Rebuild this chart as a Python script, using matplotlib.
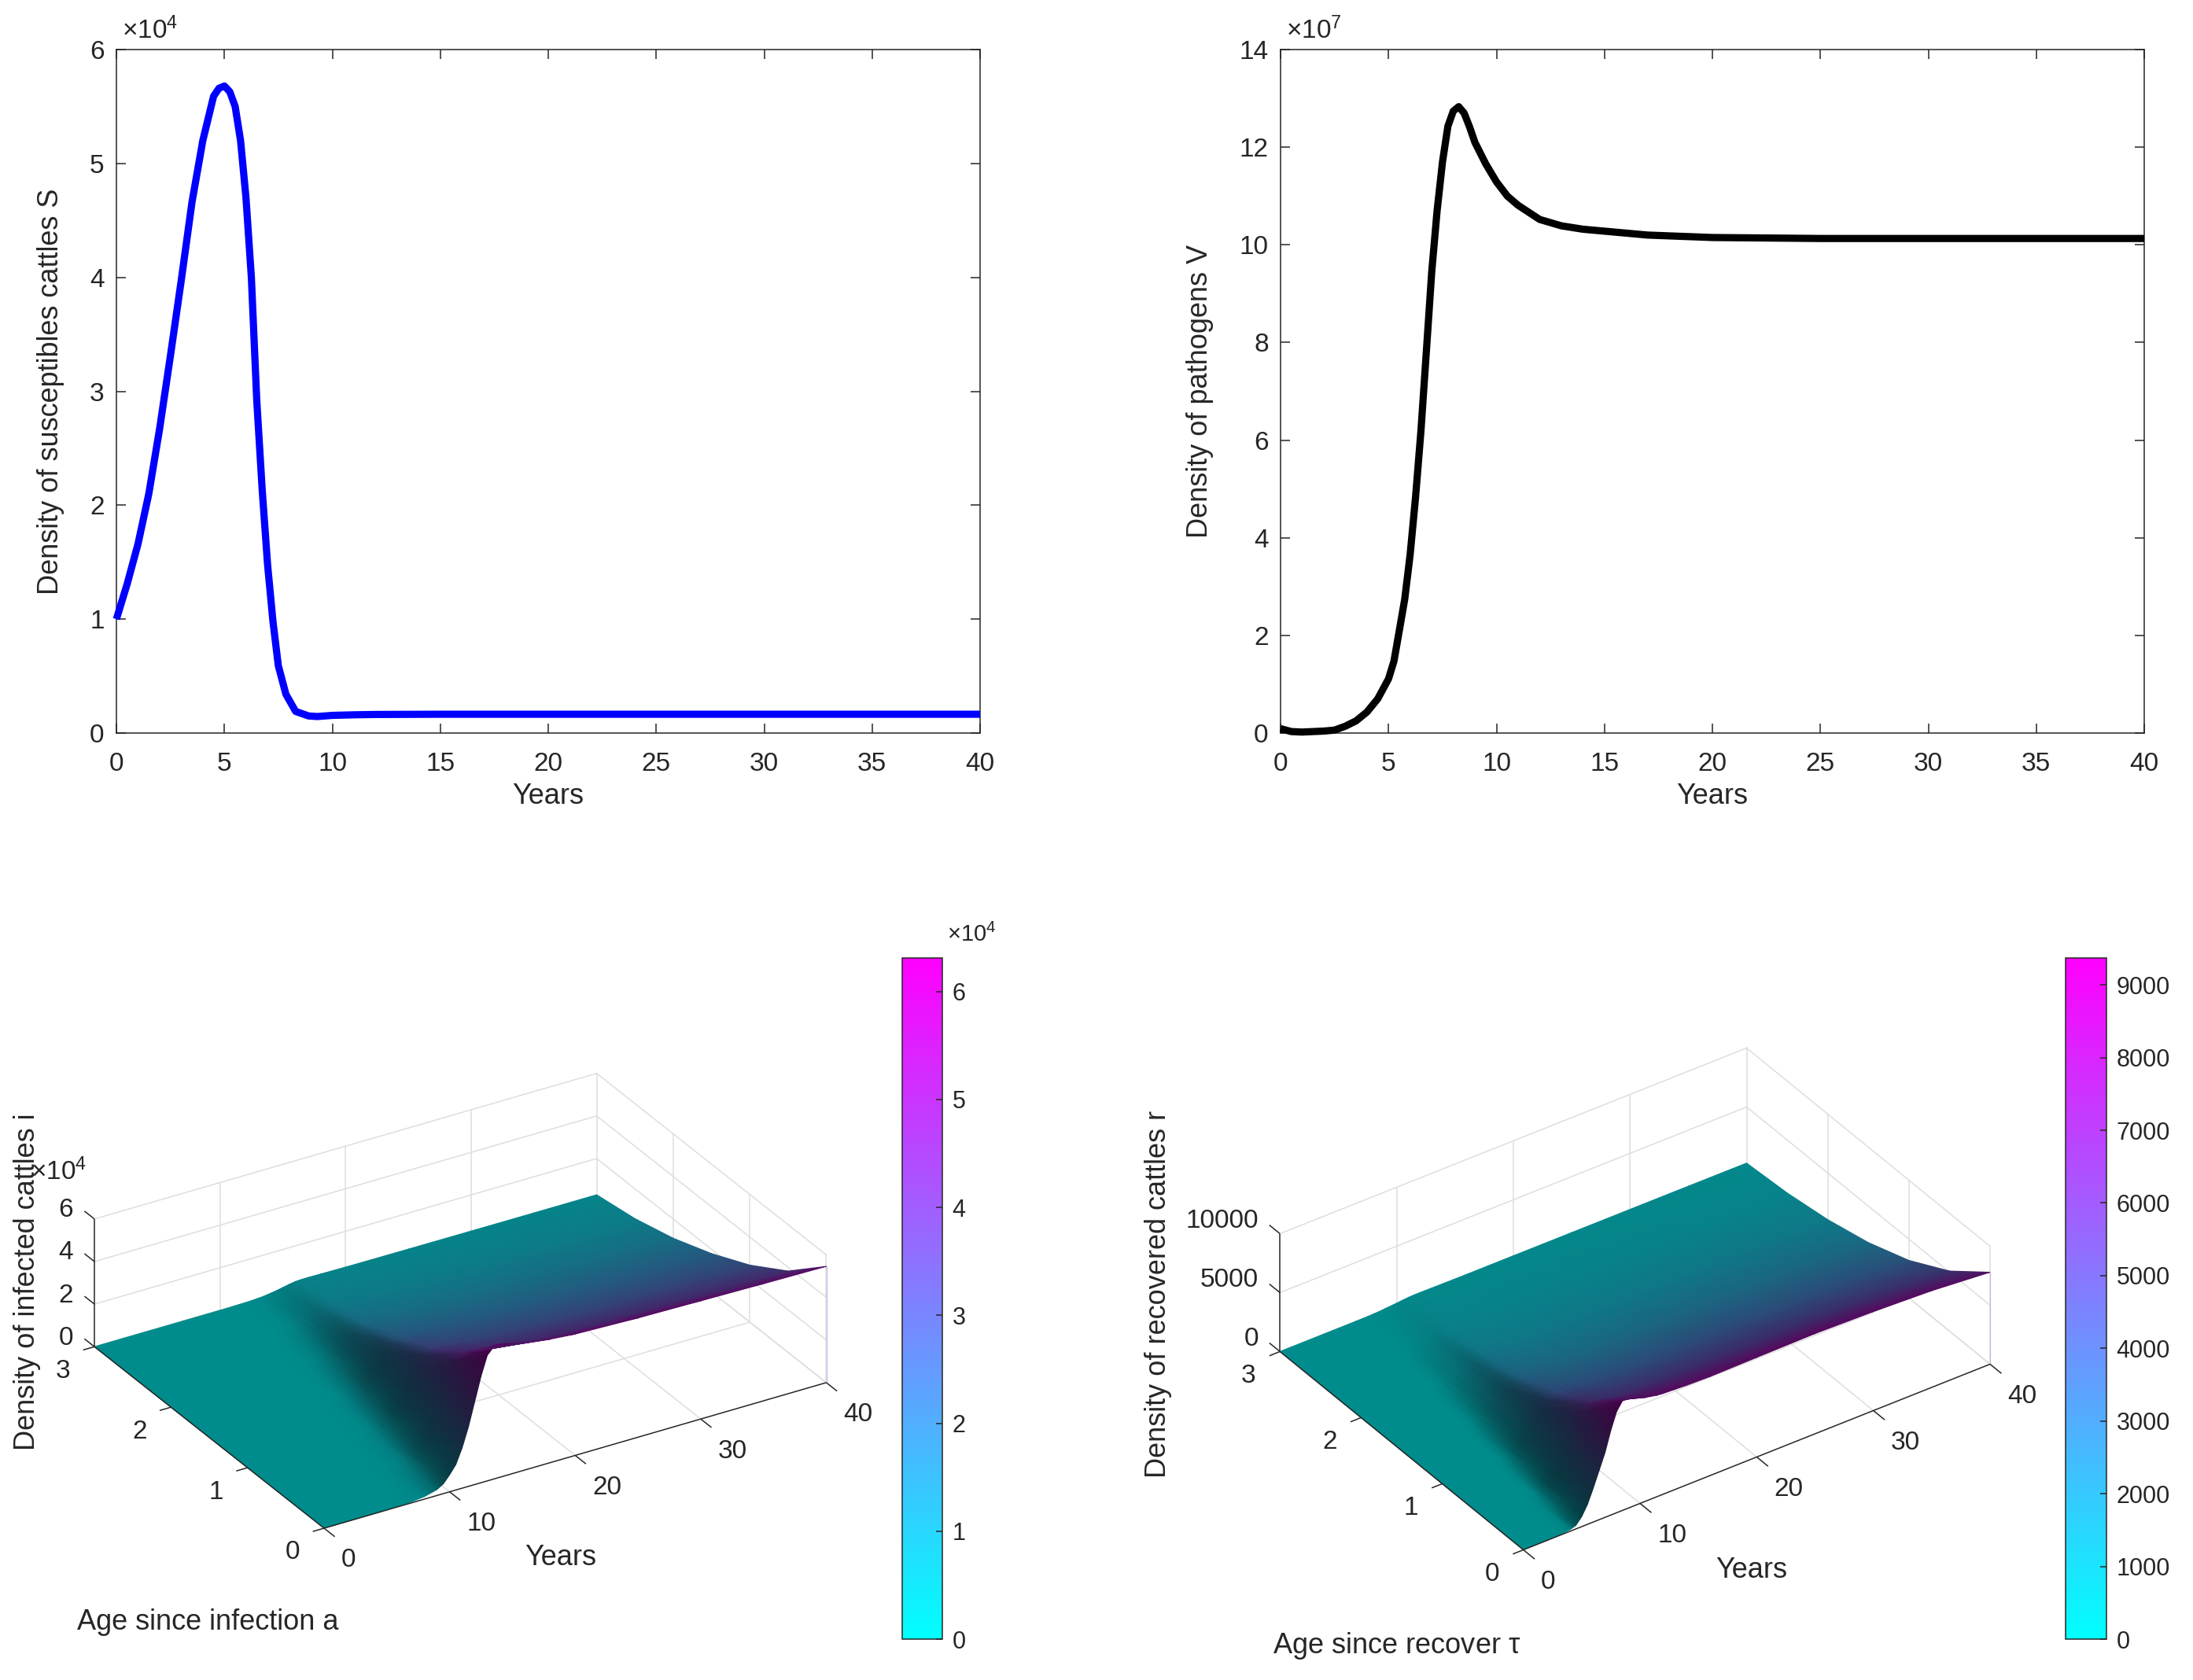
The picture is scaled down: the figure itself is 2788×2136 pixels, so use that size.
import numpy as np
import matplotlib
matplotlib.use("Agg")
import matplotlib.pyplot as plt
from matplotlib import cm
from matplotlib.colors import Normalize
from mpl_toolkits.mplot3d import proj3d

plt.rcParams['font.family'] = ['Liberation Sans', 'DejaVu Sans']
plt.rcParams['mathtext.fontset'] = 'custom'
plt.rcParams['mathtext.rm'] = 'Liberation Sans'
plt.rcParams['mathtext.it'] = 'Liberation Sans:italic'
plt.rcParams['mathtext.default'] = 'regular'

W, H = 2788, 2136
INK = '#262626'
GRID = '#dedede'

# susceptibles, units of 1e4
s_years = [0, 0.5, 1, 1.5, 2, 2.5, 3, 3.5, 4, 4.5, 4.75, 5, 5.25, 5.5, 5.75, 6, 6.25, 6.5, 6.75, 7,
           7.25, 7.5, 7.85, 8.3, 8.9, 9.3, 10, 11, 12, 15, 20, 30, 40]
s_values = [1.0, 1.31, 1.66, 2.10, 2.67, 3.31, 3.97, 4.66, 5.20, 5.59, 5.66, 5.68, 5.63, 5.50, 5.20, 4.70, 4.00, 2.92,
            2.14, 1.48, 0.98, 0.59, 0.34, 0.19, 0.15, 0.145, 0.155, 0.16, 0.163, 0.165, 0.165, 0.165, 0.165]

# pathogens, units of 1e7
v_years = [0, 0.5, 1, 2, 2.5, 3, 3.5, 4, 4.5, 5, 5.25, 5.5, 5.75, 6, 6.25, 6.5, 6.75, 7, 7.25, 7.5, 7.75, 8,
           8.25, 8.5, 8.75, 9, 9.5, 10, 10.5, 11, 12, 13, 14, 15, 17, 20, 25, 30, 40]
v_values = [0.09, 0.03, 0.02, 0.04, 0.06, 0.14, 0.25, 0.43, 0.70, 1.11, 1.47, 2.10, 2.74, 3.65, 4.82, 6.18, 7.80, 9.44,
            10.7, 11.7, 12.43, 12.74, 12.83, 12.70, 12.42, 12.10, 11.66, 11.29, 11.00, 10.81, 10.52, 10.39, 10.32,
            10.28, 10.2, 10.15, 10.13, 10.13, 10.13]

# infected cattles i(t, a), units of 1e4, one row per age
i_years = [0, 2, 4, 6, 7, 8, 9, 9.5, 10, 10.5, 11, 11.5, 12, 12.5, 13, 13.5, 14, 14.5, 15, 15.5, 16, 16.5, 17,
           18, 20, 25, 30, 35, 40]
i_ages = [0, 0.5, 1, 1.5, 2, 2.5, 3]
i_values = [
    [0, 0, 0, .02, .05, .12, .28, .46, .80, 1.2, 1.9, 2.8, 3.9, 5.0, 5.9, 6.2, 6.25, 6.2, 6.1, 6.05, 6.0, 5.95, 5.9,
     5.8, 5.7, 5.6, 5.55, 5.5, 5.46],
    [0, 0, 0, .01, .02, .06, .13, .20, .32, .56, .84, 1.33, 1.96, 2.73, 3.5, 4.13, 4.34, 4.38, 4.34, 4.27, 4.24, 4.2,
     4.17, 4.1, 4.0, 3.92, 3.89, 3.85, 3.82],
    [0, 0, 0, .005, .01, .02, .06, .09, .14, .23, .39, .59, .93, 1.37, 1.91, 2.45, 2.89, 3.04, 3.06, 3.04, 2.99,
     2.96, 2.94, 2.89, 2.82, 2.74, 2.72, 2.70, 2.68],
    [0, 0, 0, 0, .005, .01, .03, .04, .06, .09, .15, .26, .40, .63, .92, 1.29, 1.65, 1.95, 2.05, 2.06, 2.05, 2.01,
     2.0, 1.96, 1.91, 1.85, 1.83, 1.82, 1.80],
    [0, 0, 0, 0, 0, 0, .01, .02, .02, .04, .06, .09, .16, .24, .38, .56, .78, 1.0, 1.18, 1.24, 1.25, 1.24, 1.22,
     1.2, 1.17, 1.13, 1.12, 1.11, 1.10],
    [0, 0, 0, 0, 0, 0, 0, .005, .01, .01, .02, .03, .05, .09, .13, .21, .31, .43, .55, .65, .68, .69, .68,
     .67, .64, .62, .61, .61, .60],
    [0, 0, 0, 0, 0, 0, 0, 0, 0, 0, .005, .01, .015, .025, .044, .066, .11, .155, .215, .275, .325, .34, .344,
     .335, .32, .31, .305, .30, .30],
]

# recovered cattles r(t, tau), units of 1e3, one row per age
r_years = [0, 1, 2, 3, 3.5, 4, 4.5, 5, 5.5, 6, 6.5, 7, 7.5, 8, 8.5, 9, 9.5, 10, 10.5, 11, 11.5, 12, 13, 14, 16,
           20, 25, 30, 35, 40]
r_ages = [0, 0.5, 1, 1.5, 2, 2.5, 3]
r_values = [
    [0, .01, .02, .05, .08, .14, .30, .85, 1.7, 2.9, 4.2, 5.5, 7.2, 8.6, 9.3, 9.25, 9.1, 8.95, 8.8, 8.7, 8.6, 8.55,
     8.5, 8.45, 8.4, 8.45, 8.5, 8.4, 8.2, 7.8],
    [0, 0, .01, .02, .03, .05, .09, .20, .55, 1.1, 1.89, 2.73, 3.58, 4.68, 5.59, 6.05, 6.01, 5.92, 5.82, 5.72, 5.66,
     5.59, 5.54, 5.51, 5.47, 5.49, 5.52, 5.47, 5.35, 5.1],
    [0, 0, 0, .01, .01, .02, .03, .06, .12, .35, .70, 1.19, 1.72, 2.26, 2.95, 3.53, 3.81, 3.79, 3.73, 3.67, 3.61,
     3.57, 3.51, 3.49, 3.45, 3.46, 3.48, 3.45, 3.37, 3.2],
    [0, 0, 0, 0, .005, .01, .01, .02, .03, .07, .21, .42, .71, 1.03, 1.35, 1.76, 2.11, 2.28, 2.27, 2.23, 2.19,
     2.16, 2.11, 2.09, 2.06, 2.07, 2.08, 2.06, 2.01, 1.91],
    [0, 0, 0, 0, 0, 0, .005, .01, .01, .02, .04, .11, .23, .39, .57, .74, .97, 1.16, 1.26, 1.25, 1.23,
     1.21, 1.17, 1.15, 1.14, 1.14, 1.15, 1.14, 1.11, 1.05],
    [0, 0, 0, 0, 0, 0, 0, 0, .005, .005, .01, .02, .06, .11, .19, .27, .36, .47, .56, .60, .60,
     .59, .57, .56, .55, .55, .55, .55, .54, .51],
    [0, 0, 0, 0, 0, 0, 0, 0, 0, 0, .005, .005, .01, .03, .05, .09, .13, .17, .22, .26, .28,
     .28, .27, .26, .25, .25, .25, .25, .25, .24],
]

year_ticks = [0, 5, 10, 15, 20, 25, 30, 35, 40]


def fig_box(left, top, right, bottom):
    return [left / W, 1 - bottom / H, (right - left) / W, (bottom - top) / H]


def line_panel(fig, box, xs, ys, color, ymax, yticks, ylabel, label_x, exponent):
    ax = fig.add_axes(fig_box(*box))
    ax.plot(xs, ys, color=color, linewidth=6.6, solid_capstyle='butt', clip_on=False, zorder=3)
    ax.set_xlim(0, 40)
    ax.set_ylim(0, ymax)
    ax.set_xticks(year_ticks)
    ax.set_yticks(yticks)
    ax.tick_params(direction='in', top=True, right=True, length=8.6, width=1.1, color=INK,
                   labelcolor=INK, labelsize=24)
    ax.tick_params(axis='x', pad=17)
    ax.tick_params(axis='y', pad=11)
    for spine in ax.spines.values():
        spine.set_linewidth(1.1)
        spine.set_color(INK)
    ax.set_xlabel('Years', fontsize=26, color=INK, labelpad=6)
    ax.set_ylabel(ylabel, fontsize=26, color=INK)
    ax.yaxis.set_label_coords((label_x - box[0]) / (box[2] - box[0]), 0.5)
    ax.text(0.006, 1.008, exponent, transform=ax.transAxes, fontsize=24, color=INK, ha='left', va='bottom')
    return ax


def make_3d(fig, elev, azim, aspect, t_max, a_max, z_max, corner, t_length):
    # orthographic box, scaled and moved so the (t=0, a=0, z=0) corner lands on the wanted pixel
    size = 1000.0
    ax = fig.add_axes(fig_box(0, H - size, size, H), projection='3d', proj_type='ortho')
    ax.view_init(elev=elev, azim=azim)
    ax.set_xlim(0, t_max)
    ax.set_ylim(0, a_max)
    ax.set_zlim(0, z_max)
    ax.set_box_aspect(aspect)
    ax.set_axis_off()
    ax.patch.set_alpha(0)
    x0, _ = to_px(ax, 0, 0, 0)
    x1, _ = to_px(ax, t_max, 0, 0)
    size *= t_length / (np.ravel(x1)[0] - np.ravel(x0)[0])
    ax.set_position(fig_box(0, H - size, size, H))
    x0, y0 = to_px(ax, 0, 0, 0)
    dx = corner[0] - np.ravel(x0)[0]
    dy = corner[1] - np.ravel(y0)[0]
    ax.set_position(fig_box(dx, H - size + dy, size + dx, H + dy))
    return ax


def to_px(ax, t, a, z):
    xp, yp, _ = proj3d.proj_transform(np.ravel(t), np.ravel(a), np.ravel(z), ax.get_proj())
    pts = ax.transData.transform(np.column_stack([xp, yp]))
    return pts[:, 0], H - pts[:, 1]


def surface_panel(fig, over, ax, years, ages, values, zunit, z_ticks, z_tick_labels, z_max, aspect, z_up):
    years = np.array(years, dtype=float)
    ages = np.array(ages, dtype=float)
    Z = np.array(values, dtype=float)
    t_max, a_max = 40, 3

    # walls and floor
    grid = dict(color=GRID, linewidth=1.1, clip_on=False)
    for t in [10, 20, 30, 40]:
        ax.plot([t, t], [3, 3], [0, z_max], **grid)
    for t in [10, 20, 30]:
        ax.plot([t, t], [0, 3], [0, 0], **grid)
    for a in [0, 1, 2]:
        ax.plot([40, 40], [a, a], [0, z_max], **grid)
    for a in [1, 2, 3]:
        ax.plot([0, 40], [a, a], [0, 0], **grid)
    ax.plot([40, 40], [0, 3], [0, 0], **grid)
    for z in z_ticks:
        ax.plot([0, 40], [3, 3], [z, z], **grid)
        ax.plot([40, 40], [0, 3], [z, z], **grid)

    # lit colours: cool colormap darkened where the surface is steep
    top = Z.max()
    dz_da, dz_dt = np.gradient(Z, ages, years)
    gx = dz_dt * (aspect[2] / z_max) / (aspect[0] / t_max)
    gy = dz_da * (aspect[2] / z_max) / (aspect[1] / a_max)
    nz = 1 / np.sqrt(1 + gx ** 2 + gy ** 2)
    shade = 0.25 + 0.30 * nz ** 6
    rgb = cm.cool(Z / top)[:, :, :3] * shade[:, :, None]

    tt, aa = np.meshgrid(years, ages)
    xp, yp = to_px(ax, tt, aa, Z)
    xp = xp.reshape(Z.shape)
    yp = yp.reshape(Z.shape)
    over.pcolormesh(xp[::-1], yp[::-1], rgb[::-1], shading='gouraud', zorder=2)

    xe, ye = to_px(ax, [40, 40], [0, 0], [0, Z[0, -1]])
    over.plot(xe, ye, color='#c9b0ea', linewidth=0.8, zorder=2)

    # axis lines, ticks, labels
    axis = dict(color=INK, linewidth=1.1, zorder=3, solid_capstyle='butt')
    xa, ya = to_px(ax, [0, 40], [0, 0], [0, 0])
    over.plot(xa, ya, **axis)
    xa, ya = to_px(ax, [0, 0], [0, 3], [0, 0])
    over.plot(xa, ya, **axis)
    xa, ya = to_px(ax, [0, 0], [3, 3], [0, z_max])
    over.plot(xa, ya, **axis)

    tick_font = dict(fontsize=24, color=INK)
    for t in [0, 10, 20, 30, 40]:
        xa, ya = to_px(ax, [t, t], [0, -0.14], [0, 0])
        over.plot(xa, ya, **axis)
        over.text(xa[0] + 22, ya[0] + 41, str(t), ha='left', va='center', **tick_font)
    for a in [0, 1, 2, 3]:
        xa, ya = to_px(ax, [0, -0.9], [a, a], [0, 0])
        over.plot(xa, ya, **axis)
        over.text(xa[0] - 40, ya[0] + 31, str(a), ha='center', va='center', **tick_font)
    for z, label in zip(z_ticks, z_tick_labels):
        xa, ya = to_px(ax, [0, 0], [3, 3.13], [z, z])
        over.plot(xa, ya, **axis)
        over.text(xa[0] - 27, ya[0] - z_up, label, ha='right', va='center', **tick_font)
    return top


def colorbar_panel(fig, box, top, ticks, labels):
    cax = fig.add_axes(fig_box(*box))
    sm = cm.ScalarMappable(norm=Normalize(0, top), cmap='cool')
    cb = fig.colorbar(sm, cax=cax)
    cb.set_ticks(ticks)
    cb.set_ticklabels(labels)
    cax.tick_params(direction='in', length=5.5, width=1.1, color=INK, labelcolor=INK, labelsize=22, pad=9)
    cb.outline.set_linewidth(1.1)
    cb.outline.set_edgecolor(INK)
    return cb


fig = plt.figure(figsize=(W / 100, H / 100), dpi=100, facecolor='white')

line_panel(fig, (148, 63, 1246, 932), s_years, s_values, '#0000ff', 6, [0, 1, 2, 3, 4, 5, 6],
           'Density of susceptibles cattles S', 82, r'$\times 10^{4}$')
line_panel(fig, (1628, 63, 2726, 932), v_years, v_values, '#000000', 14, [0, 2, 4, 6, 8, 10, 12, 14],
           'Density of pathogens V', 1543, r'$\times 10^{7}$')

over = fig.add_axes([0, 0, 1, 1], zorder=5)
over.set_xlim(0, W)
over.set_ylim(H, 0)
over.set_autoscale_on(False)
over.axis('off')

# azimuth and elevation solved from where the box corners sit in the reference
left_aspect = (746.6, 563.7, 185.0)
ax_i = make_3d(fig, 28.6, 238.8, left_aspect, 40, 3, 6, (412, 1943), 638.5)
i_top = surface_panel(fig, over, ax_i, i_years, i_ages, i_values, 1, [0, 2, 4, 6], ['0', '2', '4', '6'], 6,
                      left_aspect, 11)

right_aspect = (723.5, 540.0, 182.2)
ax_r = make_3d(fig, 34.7, 235.05, right_aspect, 40, 3, 10, (1936.7, 1970.5), 593.3)
r_top = surface_panel(fig, over, ax_r, r_years, r_ages, r_values, 1000, [0, 5, 10], ['0', '5000', '10000'], 10,
                      right_aspect, 16)

colorbar_panel(fig, (1147, 1218, 1198, 2084), 6.31, [0, 1, 2, 3, 4, 5, 6], ['0', '1', '2', '3', '4', '5', '6'])
colorbar_panel(fig, (2626, 1218, 2678, 2084), 9.37, list(range(0, 10)), [str(v * 1000) for v in range(0, 10)])

label_font = dict(fontsize=26, color=INK, ha='center', va='center')
over.text(713, 1981, 'Years', **label_font)
over.text(264, 2062, 'Age since infection a', **label_font)
over.text(35, 1630, 'Density of infected cattles i', rotation=90, **label_font)
over.text(2227, 1996, 'Years', **label_font)
over.text(1776, 2093, r'Age since recover $\tau$', **label_font)
over.text(1472, 1645, 'Density of recovered cattles r', rotation=90, **label_font)
over.text(110, 1490, r'$\times 10^{4}$', fontsize=24, color=INK, ha='right', va='center')
over.text(1204, 1188, r'$\times 10^{4}$', fontsize=21, color=INK, ha='left', va='center')

fig.savefig('out.png', dpi=100)
